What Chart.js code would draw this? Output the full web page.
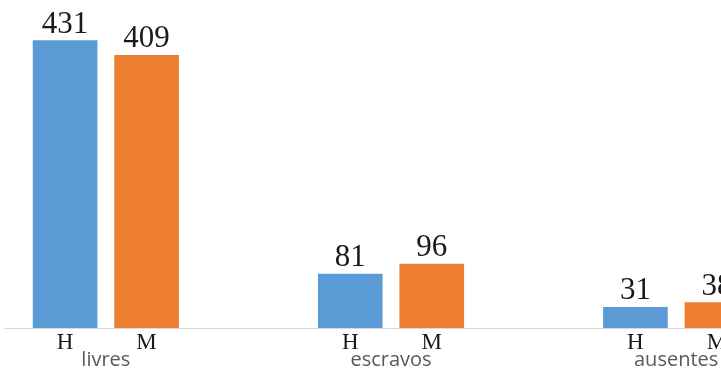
<!DOCTYPE html>
<html>
<head>
<meta charset="utf-8">
<script src="https://cdn.jsdelivr.net/npm/chart.js@4"></script>
<style>
  html, body { margin: 0; padding: 0; overflow: hidden; background: #fff; }
  #wrap { position: relative; width: 778px; height: 368px; }
</style>
</head>
<body>
<div id="wrap"><canvas id="grafico"></canvas></div>
<script>
// dados
const grupos = ['livres', 'escravos', 'ausentes'];
const sexos = ['H', 'M'];
const homens = [431, 81, 31];
const mulheres = [409, 96, 38];

// cada grupo ocupa 7 meias-posições no eixo: H, rótulo do grupo, M e o espaço
const POR_GRUPO = 7;
const N_POS = 19;

const rotulos = new Array(N_POS).fill('');
const serieH = new Array(N_POS).fill(null);
const serieM = new Array(N_POS).fill(null);

grupos.forEach((g, k) => {
    const base = 1 + k * POR_GRUPO;
    rotulos[base] = sexos[0];
    rotulos[base + 1] = ['', g];
    rotulos[base + 2] = sexos[1];
    serieH[base] = homens[k];
    serieM[base + 2] = mulheres[k];
});

const ehGrupo = (i) => Array.isArray(rotulos[i]);

// números acima das barras
const rotulosValores = {
    id: 'rotulosValores',
    afterDatasetsDraw(chart) {
        const ctx = chart.ctx;
        ctx.save();
        ctx.font = '31px "Liberation Serif"';
        ctx.fillStyle = '#1a1a1a';
        ctx.textAlign = 'center';
        ctx.textBaseline = 'alphabetic';
        chart.data.datasets.forEach((ds, i) => {
            chart.getDatasetMeta(i).data.forEach((bar, j) => {
                const v = ds.data[j];
                if (v == null) return;
                ctx.fillText(String(v), bar.x, bar.y - 8);
            });
        });
        ctx.restore();
    }
};

new Chart(document.getElementById('grafico'), {
    type: 'bar',
    data: {
        labels: rotulos,
        datasets: [
            { label: 'H', data: serieH, backgroundColor: '#5B9BD5' },
            { label: 'M', data: serieM, backgroundColor: '#ED7D31' }
        ]
    },
    options: {
        responsive: true,
        maintainAspectRatio: false,
        animation: false,
        layout: { padding: { left: 4, right: 0, top: 8, bottom: 0 } },
        datasets: {
            bar: { grouped: false, barThickness: 64 }
        },
        plugins: {
            legend: { display: false },
            tooltip: { enabled: false }
        },
        scales: {
            y: {
                display: false,
                min: 0,
                max: 480
            },
            x: {
                grid: { display: false },
                border: { display: true, color: '#d9d9d9', width: 1 },
                afterFit: (scale) => { scale.height = 40; },
                ticks: {
                    autoSkip: false,
                    maxRotation: 0,
                    minRotation: 0,
                    padding: -7,
                    color: (c) => ehGrupo(c.index) ? '#595959' : '#1a1a1a',
                    font: (c) => ehGrupo(c.index)
                        ? { family: 'Open Sans', size: 20, lineHeight: 1.05 }
                        : { family: 'Liberation Serif', size: 23, lineHeight: 1.2 }
                }
            }
        }
    },
    plugins: [rotulosValores]
});
</script>
</body>
</html>
